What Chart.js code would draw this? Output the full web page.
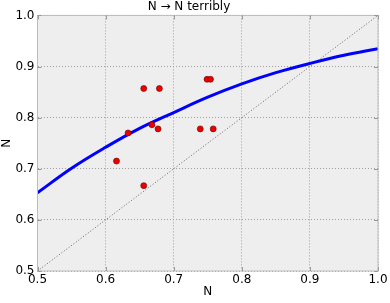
<!DOCTYPE html>
<html><head><meta charset="utf-8">
<script src="https://cdn.jsdelivr.net/npm/chart.js@4"></script>
<style>html,body{margin:0;padding:0;background:#fff}#wrap{width:390px;height:303px}</style>
</head><body><div id="wrap"><canvas id="c"></canvas></div>
<script>
const chartTitle = "N \u2192 N terribly";
const xAxisTitle = "N";
const yAxisTitle = "N";
const tickValues = [0.5, 0.6, 0.7, 0.8, 0.9, 1.0];
const diagX = [0.5, 1.0];
const diagY = [0.5, 1.0];
const curveX = [0.5, 0.55, 0.6, 0.65, 0.7, 0.75, 0.8, 0.85, 0.9, 0.95, 1.0];
const curveY = [0.653, 0.701, 0.742, 0.779, 0.810, 0.840, 0.866, 0.888, 0.906, 0.922, 0.935];
const pointX = [0.656, 0.679, 0.749, 0.754, 0.668, 0.677, 0.633, 0.739, 0.758, 0.616, 0.656];
const pointY = [0.857, 0.857, 0.875, 0.875, 0.786, 0.778, 0.770, 0.778, 0.778, 0.715, 0.667];

const zip = (xs, ys) => xs.map((x, i) => ({x: x, y: ys[i]}));

const bgPlugin = {
  id: 'bg',
  beforeDraw(chart) {
    const {ctx, chartArea: a} = chart;
    ctx.save();
    ctx.fillStyle = '#eeeeee';
    ctx.fillRect(a.left, a.top, a.right - a.left, a.bottom - a.top);
    ctx.restore();
  },
  afterDraw(chart) {
    const {ctx, chartArea: a, scales} = chart;
    ctx.save();
    ctx.strokeStyle = '#bcbcbc';
    ctx.lineWidth = 1;
    ctx.strokeRect(a.left, a.top, a.right - a.left, a.bottom - a.top);
    // inward tick marks (matplotlib style)
    ctx.strokeStyle = '#999999';
    ctx.beginPath();
    scales.x.ticks.forEach(t => {
      const px = Math.round(scales.x.getPixelForValue(t.value)) + 0.5;
      ctx.moveTo(px, a.top); ctx.lineTo(px, a.top + 4);
      ctx.moveTo(px, a.bottom); ctx.lineTo(px, a.bottom - 4);
    });
    scales.y.ticks.forEach(t => {
      const py = Math.round(scales.y.getPixelForValue(t.value)) + 0.5;
      ctx.moveTo(a.left, py); ctx.lineTo(a.left + 4, py);
      ctx.moveTo(a.right, py); ctx.lineTo(a.right - 4, py);
    });
    ctx.stroke();
    ctx.restore();
  }
};

const font = {family: 'DejaVu Sans', size: 12};

new Chart(document.getElementById('c'), {
  type: 'scatter',
  data: {
    datasets: [
      {
        data: zip(diagX, diagY), showLine: true, borderColor: '#666666', borderWidth: 1,
        borderDash: [1, 2], pointRadius: 0, order: 3
      },
      {
        data: zip(curveX, curveY), showLine: true, borderColor: '#0000ff', borderWidth: 3,
        tension: 0.4, pointRadius: 0, order: 2
      },
      {
        data: zip(pointX, pointY), showLine: false, backgroundColor: '#ee0000',
        borderColor: '#660000', borderWidth: 0.6, pointRadius: 3, order: 1
      }
    ]
  },
  options: {
    responsive: true, maintainAspectRatio: false, animation: false,
    layout: {padding: {left: 0, right: 12, top: 0, bottom: 0}},
    plugins: {
      legend: {display: false}, tooltip: {enabled: false},
      title: {display: true, text: chartTitle, color: '#000', font: {family: 'DejaVu Sans', size: 12, weight: 'normal', lineHeight: 1.2}, padding: {top: 0, bottom: 1}}
    },
    scales: {
      x: {
        type: 'linear', min: 0.5, max: 1.0,
        afterBuildTicks: s => { s.ticks = tickValues.map(v => ({value: v})); },
        afterFit: s => { s.height = 32; },
        ticks: {color: '#000', font: font, padding: 2, maxRotation: 0, autoSkip: false, callback: v => v.toFixed(1)},
        grid: {color: '#a0a0a0', lineWidth: 1, drawTicks: false},
        border: {display: false, dash: [1, 2]},
        title: {display: true, text: xAxisTitle, color: '#000', font: font, padding: {top: 0, bottom: 4}}
      },
      y: {
        type: 'linear', min: 0.5, max: 1.0,
        afterBuildTicks: s => { s.ticks = tickValues.map(v => ({value: v})); },
        afterFit: s => { s.width = 37.5; },
        ticks: {color: '#000', font: font, padding: 3, autoSkip: false, callback: v => v.toFixed(1)},
        grid: {color: '#a0a0a0', lineWidth: 1, drawTicks: false},
        border: {display: false, dash: [1, 2]},
        title: {display: true, text: yAxisTitle, color: '#000', font: font, padding: {top: 0, bottom: 0}}
      }
    }
  },
  plugins: [bgPlugin]
});
</script></body></html>
